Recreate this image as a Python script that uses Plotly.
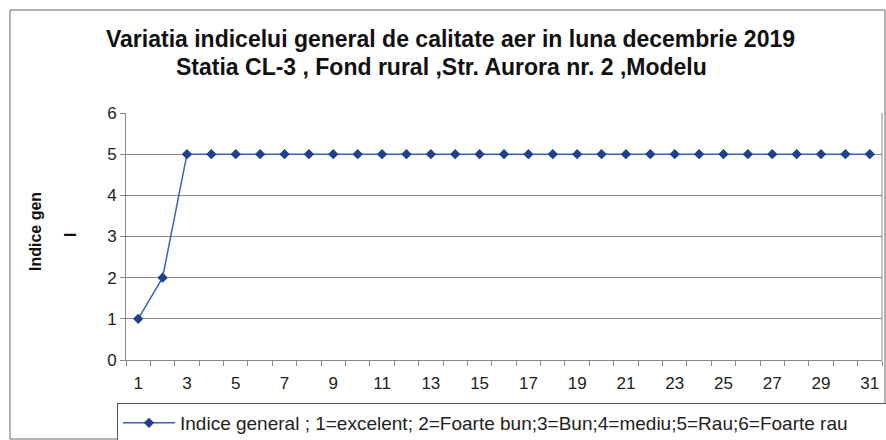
import plotly.graph_objects as go

days = list(range(1, 32))
indice = [1, 2] + [5] * 29
tick_labels = [str(d) for d in range(1, 32, 2)]
y_ticks = [0, 1, 2, 3, 4, 5, 6]
series_name = "Indice general ; 1=excelent; 2=Foarte bun;3=Bun;4=mediu;5=Rau;6=Foarte rau"

W, H = 886, 440
L, R, T, B = 126, 4, 113, 80
pw, ph = W - L - R, H - T - B

def px(x):
    return (x - L) / pw

def py(y):
    return (H - B - y) / ph

fig = go.Figure()
fig.add_trace(go.Scatter(
    x=days, y=indice, mode="lines+markers", name=series_name,
    line=dict(color="#3565b0", width=1.5),
    marker=dict(symbol="diamond", size=8, color="#1f3f8f"),
))

font = "Liberation Sans, Arial, sans-serif"
fig.update_layout(
    width=W, height=H,
    margin=dict(l=L, r=R, t=T, b=B, autoexpand=False),
    paper_bgcolor="white", plot_bgcolor="white",
    font=dict(family=font, color="#222"),
    showlegend=True,
    legend=dict(
        orientation="h", x=px(117), xanchor="left", y=py(403), yanchor="top",
        bordercolor="#555", borderwidth=1, font=dict(size=19, family=font),
        itemwidth=52, entrywidth=752, entrywidthmode="pixels",
    ),
    xaxis=dict(
        range=[0.5, 31.5], tickmode="array", tickvals=list(range(1, 32, 2)),
        ticktext=tick_labels, ticks="", showgrid=False, zeroline=False,
        showline=True, linecolor="#888", linewidth=1, mirror=False,
        tickfont=dict(size=17, family=font, color="#222"),
        minor=dict(tickvals=[d + 0.5 for d in range(0, 32)], ticks="outside",
                   ticklen=5, tickcolor="#888", showgrid=False),
        ticklabelstandoff=8,
    ),
    yaxis=dict(
        range=[0, 6], tickvals=y_ticks, ticks="outside", ticklen=5, tickcolor="#888",
        showgrid=True, gridcolor="#8a8a8a", gridwidth=1, zeroline=False,
        showline=True, linecolor="#888", linewidth=1,
        tickfont=dict(size=17, family=font, color="#222"),
    ),
    shapes=[
        dict(type="rect", xref="paper", yref="paper",
             x0=px(10), x1=px(885), y0=py(439), y1=py(10),
             line=dict(color="#666", width=1)),
        dict(type="line", xref="paper", yref="paper",
             x0=1, x1=1, y0=0, y1=1, line=dict(color="#888", width=1)),
    ],
    annotations=[
        dict(text="<b>Variatia indicelui general de calitate aer in luna decembrie 2019</b>",
             xref="paper", yref="paper", x=px(450), y=py(39), showarrow=False,
             xanchor="center", yanchor="middle",
             font=dict(size=23, family=font, color="#111")),
        dict(text="<b>Statia CL-3 , Fond rural ,Str. Aurora nr. 2 ,Modelu</b>",
             xref="paper", yref="paper", x=px(441), y=py(67), showarrow=False,
             xanchor="center", yanchor="middle",
             font=dict(size=23, family=font, color="#111")),
        dict(text="<b>Indice gen</b>", textangle=-90,
             xref="paper", yref="paper", x=px(35), y=py(232), showarrow=False,
             xanchor="center", yanchor="middle",
             font=dict(size=16, family=font, color="#111")),
        dict(text="<b>l</b>", textangle=-90,
             xref="paper", yref="paper", x=px(70), y=py(235), showarrow=False,
             xanchor="center", yanchor="middle",
             font=dict(size=16, family=font, color="#111")),
    ],
)

fig.write_html("out.html", config={"displayModeBar": False},
               post_script="document.body.style.margin='0';document.body.style.overflow='hidden';")
